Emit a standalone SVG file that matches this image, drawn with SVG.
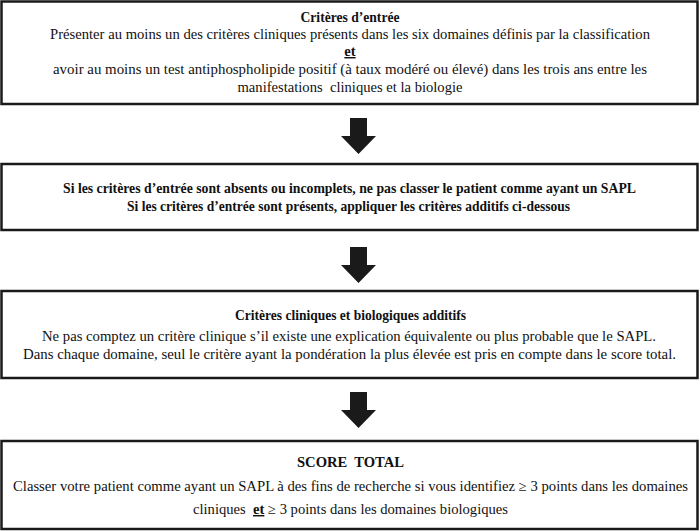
<svg xmlns="http://www.w3.org/2000/svg" width="700" height="531" viewBox="0 0 700 531">
<style>
.box{fill:#fff;stroke:#1a1a1a;stroke-width:2.5}
text{font-family:"Liberation Serif","Times New Roman",serif;font-size:14.5px;fill:#111;text-anchor:middle;white-space:pre}
.b{font-weight:bold}
.u{text-decoration:underline}
.arrow{fill:#1a1a1a}
</style>
<rect width="700" height="531" fill="#fff"/>
<g id="node1">
<rect class="box" x="1.5" y="1.5" width="696" height="102.5"/>
<text class="b" x="350" y="22" textLength="99" lengthAdjust="spacingAndGlyphs">Critères d’entrée</text>
<text x="350" y="39" textLength="600" lengthAdjust="spacingAndGlyphs">Présenter au moins un des critères cliniques présents dans les six domaines définis par la classification</text>
<text class="b u" x="350" y="56">et</text>
<text x="350" y="74" textLength="594" lengthAdjust="spacingAndGlyphs">avoir au moins un test antiphospholipide positif (à taux modéré ou élevé) dans les trois ans entre les</text>
<text x="350" y="92" textLength="225" lengthAdjust="spacingAndGlyphs">manifestations  cliniques et la biologie</text>
</g>
<g id="node2">
<rect class="box" x="1.5" y="164" width="696" height="66"/>
<text class="b" x="349.5" y="193" textLength="573" lengthAdjust="spacingAndGlyphs">Si les critères d’entrée sont absents ou incomplets, ne pas classer le patient comme ayant un SAPL</text>
<text class="b" x="348.5" y="211" textLength="443" lengthAdjust="spacingAndGlyphs">Si les critères d’entrée sont présents, appliquer les critères additifs ci-dessous</text>
</g>
<g id="node3">
<rect class="box" x="1.5" y="291" width="696" height="87"/>
<text class="b" x="350.5" y="320" textLength="231" lengthAdjust="spacingAndGlyphs">Critères cliniques et biologiques additifs</text>
<text x="349" y="341" textLength="614" lengthAdjust="spacingAndGlyphs">Ne pas comptez un critère clinique s’il existe une explication équivalente ou plus probable que le SAPL.</text>
<text x="349.5" y="359" textLength="653" lengthAdjust="spacingAndGlyphs">Dans chaque domaine, seul le critère ayant la pondération la plus élevée est pris en compte dans le score total.</text>
</g>
<g id="node4">
<rect class="box" x="1.5" y="441" width="696" height="88"/>
<text class="b" x="350.5" y="467" textLength="107" lengthAdjust="spacingAndGlyphs">SCORE  TOTAL</text>
<text x="350.5" y="491" textLength="675" lengthAdjust="spacingAndGlyphs">Classer votre patient comme ayant un SAPL à des fins de recherche si vous identifiez ≥ 3 points dans les domaines</text>
<text x="350.5" y="514" textLength="315" lengthAdjust="spacingAndGlyphs">cliniques  <tspan class="b u">et</tspan> ≥ 3 points dans les domaines biologiques</text>
</g>
<g id="connectors">
<polygon class="arrow" points="350,118 367,118 367,136 376,136 358.5,154 341,136 350,136"/>
<polygon class="arrow" points="350,247 367,247 367,265 376,265 358.5,283 341,265 350,265"/>
<polygon class="arrow" points="350,392 367,392 367,410 376,410 358.5,428 341,410 350,410"/>
</g>
</svg>
